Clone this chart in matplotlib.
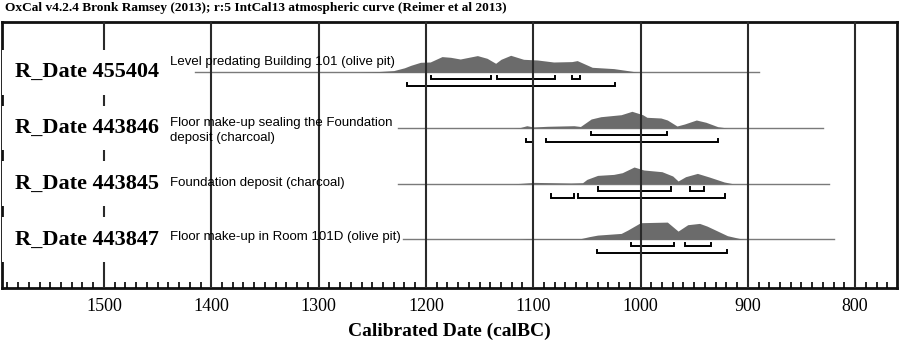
import matplotlib
matplotlib.use("Agg")
import matplotlib.pyplot as plt
from matplotlib.ticker import MultipleLocator

# OxCal multiplot: four R_Date results
labels = ["R_Date 455404", "R_Date 443846", "R_Date 443845", "R_Date 443847"]
descriptions = [
    "Level predating Building 101 (olive pit)",
    "Floor make-up sealing the Foundation\ndeposit (charcoal)",
    "Foundation deposit (charcoal)",
    "Floor make-up in Room 101D (olive pit)",
]

# extent of the thin baseline (calBC)
spans = [(1415, 890), (1226, 830), (1226, 824), (1221, 820)]

# posterior shapes (year calBC, relative height)
yr1 = [1263, 1245, 1230, 1220, 1214, 1205, 1196, 1185, 1177, 1168, 1152, 1143, 1135,
       1130, 1121, 1109, 1096, 1081, 1064, 1059, 1045, 1025, 1012, 1002]
h1 = [0, 0.7, 1.7, 4.5, 7, 10, 10.3, 15.7, 15, 13.3, 16.7, 14, 9,
      13, 17, 13, 12.3, 10.3, 10.7, 11.7, 5, 3.7, 1.7, 0]
yr2 = [1118, 1112, 1106, 1100, 1087, 1062, 1056, 1046, 1037, 1018, 1008, 998, 994,
       981, 975, 966, 959, 948, 939, 928, 919]
h2 = [0, 0.5, 2.3, 1.0, 1.7, 2.3, 1.5, 9, 11.3, 13.3, 16.7, 13.3, 10.7,
      10, 8, 2, 4, 8, 5.7, 1.3, 0]
yr3 = [1118, 1112, 1099, 1065, 1054, 1050, 1040, 1025, 1017, 1006, 997, 980, 970,
       965, 958, 947, 936, 922, 914]
h3 = [0, 0.3, 1.3, 0.7, 1, 4.3, 8.3, 9.3, 11, 16.7, 13.7, 12, 7.7,
      2.7, 7, 10.3, 6.7, 1.7, 0]
yr4 = [1112, 1106, 1056, 1048, 1040, 1018, 1012, 1000, 975, 965, 956, 945, 938,
       919, 908, 902]
h4 = [0, 0.7, 0.7, 2.7, 4.3, 6, 9.3, 16.7, 17.3, 8.3, 14.7, 16, 13.3,
      3.7, 1, 0]
years = [yr1, yr2, yr3, yr4]
heights = [h1, h2, h3, h4]

# 68.2% and 95.4% ranges
sigma1 = [
    [(1195, 1139.5), (1134, 1080), (1064, 1056)],
    [(1046, 975)],
    [(1040, 972), (954, 941)],
    [(1009, 969), (959, 934)],
]
sigma2 = [
    [(1218, 1024)],
    [(1106.5, 1100.5), (1088, 928)],
    [(1083, 1062), (1058, 921)],
    [(1041, 919)],
]

title = "OxCal v4.2.4 Bronk Ramsey (2013); r:5 IntCal13 atmospheric curve (Reimer et al 2013)"

serif = ["Liberation Serif", "DejaVu Serif"]
sans = ["Liberation Sans", "DejaVu Sans"]

fig = plt.figure(figsize=(9, 3.48), dpi=100)
ax = fig.add_axes([2 / 900, 1 - 288 / 348, 895 / 900, 266 / 348])

ax.set_xlim(1595, 761)
ax.set_ylim(266, 0)  # pixel-ish units, top down

row_y = [50.3 + 55.7 * i for i in range(4)]
text_dy = [-10, 2.5, -1, -2.5]


def bracket(x0, x1, y, tick=3.5):
    ax.plot([x0, x0, x1, x1], [y - tick, y, y, y - tick], color="black",
            lw=1.4, solid_joinstyle="miter")


for i, y in enumerate(row_y):
    ax.plot(spans[i], [y, y], color="#7a7a7a", lw=1.0, zorder=1.5)
    ax.fill_between(years[i], y, [y - v for v in heights[i]],
                    color="#6b6b6b", lw=0, zorder=1.6)
    for a, b in sigma1[i]:
        bracket(a, b, y + 7)
    for a, b in sigma2[i]:
        bracket(a, b, y + 14)
    ax.text(1583, y, labels[i], ha="left", va="center", fontsize=16,
            fontweight="bold", family=serif, zorder=4,
            bbox=dict(facecolor="white", edgecolor="none", pad=9))
    ax.text(1438, y + text_dy[i], descriptions[i], ha="left", va="center",
            fontsize=9.5, family=sans, linespacing=1.3, zorder=4)

# axis styling
ax.xaxis.set_major_locator(MultipleLocator(100))
ax.xaxis.set_minor_locator(MultipleLocator(10))
ax.set_yticks([])
ax.grid(axis="x", which="major", color="#2a2a2a", lw=1.5)
ax.set_axisbelow(False)
ax.tick_params(axis="x", which="major", length=0, pad=7)
ax.tick_params(axis="x", which="minor", direction="in", length=4, width=1.2)
for lab in ax.get_xticklabels():
    lab.set_family(serif)
    lab.set_fontsize(13)
for sp in ax.spines.values():
    sp.set_linewidth(2)
    sp.set_color("#111111")

ax.set_xlabel("Calibrated Date (calBC)", fontsize=14, fontweight="bold",
              family=serif, labelpad=6)

fig.text(5 / 900, 1 - 2 / 348, title, ha="left", va="top", fontsize=9.6,
         fontweight="bold", family=serif)

fig.savefig("out.png", dpi=100)
